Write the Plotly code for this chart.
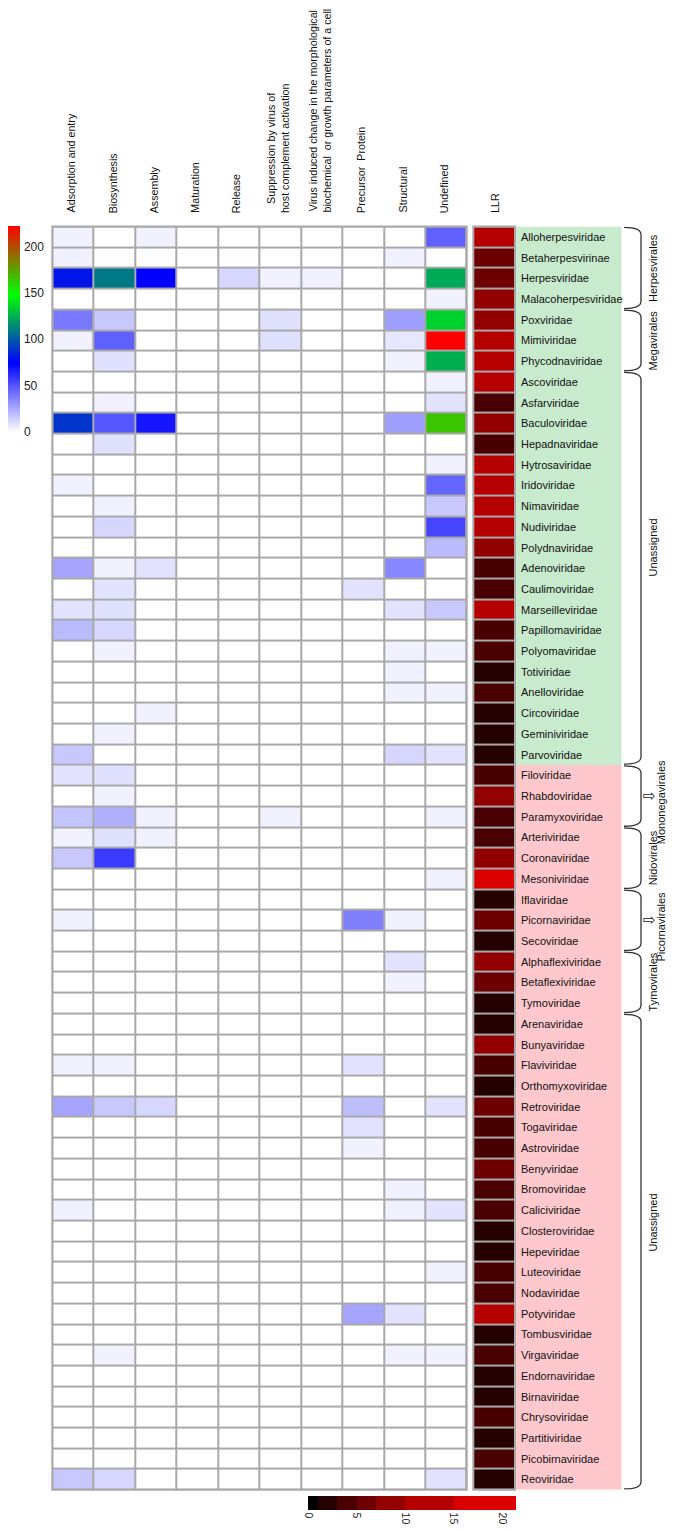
import plotly.graph_objects as go

W, H = 676, 1532
OFF = 8  # page body margin of the html page
FW, FH = W - OFF, H - 2 * OFF

functions = ["Adsorption and entry", "Biosynthesis", "Assembly", "Maturation", "Release",
             "Suppression by virus of<br>host complement activation",
             "Virus induced change in the morphological<br>biochemical\u00a0 or growth parameters of a cell",
             "Precursor\u00a0 Protein", "Structural", "Undefined"]

families = ["Alloherpesviridae", "Betaherpesvirinae", "Herpesviridae", "Malacoherpesviridae",
            "Poxviridae", "Mimiviridae", "Phycodnaviridae", "Ascoviridae", "Asfarviridae",
            "Baculoviridae", "Hepadnaviridae", "Hytrosaviridae", "Iridoviridae", "Nimaviridae",
            "Nudiviridae", "Polydnaviridae", "Adenoviridae", "Caulimoviridae", "Marseilleviridae",
            "Papillomaviridae", "Polyomaviridae", "Totiviridae", "Anelloviridae", "Circoviridae",
            "Geminiviridae", "Parvoviridae",
            "Filoviridae", "Rhabdoviridae", "Paramyxoviridae", "Arteriviridae", "Coronaviridae",
            "Mesoniviridae", "Iflaviridae", "Picornaviridae", "Secoviridae", "Alphaflexiviridae",
            "Betaflexiviridae", "Tymoviridae", "Arenaviridae", "Bunyaviridae", "Flaviviridae",
            "Orthomyxoviridae", "Retroviridae", "Togaviridae", "Astroviridae", "Benyviridae",
            "Bromoviridae", "Caliciviridae", "Closteroviridae", "Hepeviridae", "Luteoviridae",
            "Nodaviridae", "Potyviridae", "Tombusviridae", "Virgaviridae", "Endornaviridae",
            "Birnaviridae", "Chrysoviridae", "Partitiviridae", "Picobirnaviridae", "Reoviridae"]

# background group of each family (green block / pink block)
family_group = ["A"] * 26 + ["B"] * 35

llr = [12, 6, 6, 8.5, 8.5, 12, 12, 12, 4, 8.5, 4, 12, 12, 12, 12, 8.5, 4, 4, 12, 4, 4, 2, 4, 2, 2, 2,
       4, 8.5, 4, 4, 8.5, 17, 2, 6, 2, 8.5, 6, 2, 2, 8.5, 4, 2, 6, 4, 4, 6, 4, 4, 2, 2, 4, 4, 12,
       2, 4, 2, 2, 4, 2, 4, 2]

adsorption = [4, 4, 80, 0, 39, 4, 0, 0, 0, 89, 0, 0, 4, 0, 0, 0, 26, 0, 8, 20, 0, 0, 0, 0, 0, 16,
              8, 0, 17, 4, 16, 0, 0, 4, 0, 0, 0, 0, 0, 0, 4, 0, 26, 0, 0, 0, 0, 4, 0, 0, 0, 0, 0,
              0, 0, 0, 0, 0, 0, 0, 16]
biosynthesis = [0, 0, 109, 0, 16, 46, 9, 0, 4, 49, 9, 0, 0, 4, 12, 0, 4, 8, 9, 12, 4, 0, 0, 0, 4, 0,
                9, 4, 23, 9, 57, 0, 0, 0, 0, 0, 0, 0, 0, 0, 4, 0, 16, 0, 0, 0, 0, 0, 0, 0, 0, 0, 0,
                0, 4, 0, 0, 0, 0, 0, 12]
assembly = [4, 0, 74, 0, 0, 0, 0, 0, 0, 68, 0, 0, 0, 0, 0, 0, 8, 0, 0, 0, 0, 0, 0, 4, 0, 0,
            0, 0, 4, 4, 0, 0, 0, 0, 0, 0, 0, 0, 0, 0, 0, 0, 12, 0, 0, 0, 0, 0, 0, 0, 0, 0, 0,
            0, 0, 0, 0, 0, 0, 0, 0]
maturation = [0] * 61
release = [0, 0, 12] + [0] * 58
suppression = [0, 0, 4, 0, 9, 9, 0, 0, 0, 0, 0, 0, 0, 0, 0, 0, 0, 0, 0, 0, 0, 0, 0, 0, 0, 0,
               0, 0, 4, 0, 0, 0, 0, 0, 0, 0, 0, 0, 0, 0, 0, 0, 0, 0, 0, 0, 0, 0, 0, 0, 0, 0, 0,
               0, 0, 0, 0, 0, 0, 0, 0]
virus_induced = [0, 0, 4] + [0] * 58
precursor = [0, 0, 0, 0, 0, 0, 0, 0, 0, 0, 0, 0, 0, 0, 0, 0, 0, 8, 0, 0, 0, 0, 0, 0, 0, 0,
             0, 0, 0, 0, 0, 0, 0, 37, 0, 0, 0, 0, 0, 0, 8, 0, 19, 8, 4, 0, 0, 0, 0, 0, 0, 0, 26,
             0, 0, 0, 0, 0, 0, 0, 0]
structural = [0, 4, 0, 0, 28, 7, 4, 0, 0, 28, 0, 0, 0, 0, 0, 0, 35, 0, 8, 0, 4, 4, 4, 0, 0, 12,
              0, 0, 0, 0, 0, 0, 0, 4, 0, 8, 4, 0, 0, 0, 0, 0, 0, 0, 0, 0, 4, 4, 0, 0, 0, 0, 8,
              0, 4, 0, 0, 0, 0, 0, 0]
undefined = [46, 0, 123, 4, 135, 222, 125, 4, 8, 165, 0, 4, 45, 16, 54, 20, 0, 0, 16, 0, 4, 0, 4, 0, 0, 8,
             0, 0, 4, 0, 0, 4, 0, 0, 0, 0, 0, 0, 0, 0, 0, 0, 8, 0, 0, 0, 0, 8, 0, 0, 4, 0, 0,
             0, 4, 0, 0, 0, 0, 0, 8]

orders = ["Herpesvirales", "Megavirales", "Unassigned", "Mononegavirales", "Nidovirales",
          "Picornavirales", "Tymovirales", "Unassigned"]
order_arrow = [False, False, False, True, False, True, False, False]
order_first = [0, 4, 7, 26, 29, 32, 35, 38]
order_last = [3, 6, 25, 28, 31, 34, 37, 60]

cbar_ticks = [0, 50, 100, 150, 200]
llr_ticks = [0, 5, 10, 15, 20]
llr_breaks = [0, 1, 3, 5, 7, 10, 15, 21.4]
llr_colors = ["#000000", "#240000", "#490000", "#6d0000", "#920000", "#b60000", "#db0000"]

columns = [adsorption, biosynthesis, assembly, maturation, release, suppression,
           virus_induced, precursor, structural, undefined]
n = len(families)
z_main = [[col[i] for col in columns] for i in range(n)]
z_llr = [[v] for v in llr]

FONT = "Liberation Sans, Arial, Helvetica, sans-serif"


def px_x(p):
    return (p - OFF) / FW


def px_y(p):
    return 1 - (p - OFF) / FH


top_px, bot_px = 226.7, 1490.7

zmax_main = 222
main_scale = [[0, "#ffffff"], [1 / 3, "#0000ff"], [2 / 3, "#00ff00"], [1, "#ff0000"]]

llr_max = llr_breaks[-1]
llr_scale = []
for k, c in enumerate(llr_colors):
    llr_scale.append([llr_breaks[k] / llr_max, c])
    llr_scale.append([llr_breaks[k + 1] / llr_max, c])

fig = go.Figure()
fig.add_trace(go.Heatmap(
    z=z_main, x=list(range(10)), y=list(range(n)), xaxis="x", yaxis="y",
    colorscale=main_scale, zmin=0, zmax=zmax_main, xgap=2, ygap=2,
    hovertemplate="%{z}<extra></extra>",
    colorbar=dict(orientation="v", x=px_x(8), xanchor="left", y=px_y(432), yanchor="bottom",
                  len=206, lenmode="pixels", thickness=12, thicknessmode="pixels",
                  xpad=0, ypad=0, outlinewidth=0, tickvals=cbar_ticks,
                  ticks="outside", ticklen=2, tickcolor="rgba(0,0,0,0)",
                  tickfont=dict(family=FONT, size=12, color="#222"))))
fig.add_trace(go.Heatmap(
    z=z_llr, x=[0], y=list(range(n)), xaxis="x2", yaxis="y",
    colorscale=llr_scale, zmin=0, zmax=llr_max, ygap=2,
    hovertemplate="LLR %{z}<extra></extra>",
    colorbar=dict(orientation="h", x=px_x(308), xanchor="left", y=px_y(1496), yanchor="top",
                  len=208, lenmode="pixels", thickness=14, thicknessmode="pixels",
                  xpad=0, ypad=0, outlinewidth=0, tickvals=llr_ticks, tickangle=90,
                  ticks="outside", ticklen=1, tickcolor="rgba(0,0,0,0)",
                  tickfont=dict(family=FONT, size=10.5, color="#222"))))

fig.update_layout(
    width=FW, height=FH, autosize=False,
    margin=dict(l=0, r=0, t=0, b=0),
    paper_bgcolor="white", plot_bgcolor="#a9a9a9",
    font=dict(family=FONT, size=11, color="#222"),
    showlegend=False,
    xaxis=dict(domain=[px_x(52.3), px_x(466.7)], range=[-0.5, 9.5], showticklabels=False,
               showgrid=False, zeroline=False, ticks="", fixedrange=True),
    xaxis2=dict(domain=[px_x(473.3), px_x(515)], range=[-0.5, 0.5], anchor="y",
                showticklabels=False, showgrid=False, zeroline=False, ticks="", fixedrange=True),
    yaxis=dict(domain=[px_y(bot_px), px_y(top_px)], range=[n - 0.5, -0.5],
               showticklabels=False, showgrid=False, zeroline=False, ticks="", fixedrange=True),
)

shapes = []
annotations = []
# outer grey frames
for x0, x1 in [(52.3, 466.7), (473.3, 515)]:
    shapes.append(dict(type="rect", xref="paper", yref="paper", x0=px_x(x0), x1=px_x(x1),
                       y0=px_y(bot_px), y1=px_y(top_px), line=dict(color="#a9a9a9", width=2),
                       fillcolor="rgba(0,0,0,0)", layer="above"))

# background bands behind family names
i = 0
while i < n:
    j = i
    while j + 1 < n and family_group[j + 1] == family_group[i]:
        j += 1
    shapes.append(dict(type="rect", xref="paper", yref="y", x0=px_x(515), x1=px_x(621.5),
                       y0=i - 0.5, y1=j + 0.5, line=dict(width=0),
                       fillcolor="#c8ebcd" if family_group[i] == "A" else "#ffc8cd", layer="below"))
    i = j + 1

for k, name in enumerate(families):
    annotations.append(dict(text=name, xref="paper", yref="y", x=px_x(518.5), y=k,
                            xanchor="left", yanchor="middle", showarrow=False,
                            font=dict(family=FONT, size=11, color="#111")))

# column headers
col_centers_px = [52.3 + (k + 0.5) * 41.44 - 2 for k in range(10)]
for k, t in enumerate(functions):
    annotations.append(dict(text=t, xref="paper", yref="paper", x=px_x(col_centers_px[k]),
                            y=px_y(215), xanchor="center", yanchor="bottom", textangle=-90,
                            showarrow=False, font=dict(family=FONT, size=10.7, color="#111")))
annotations.append(dict(text="LLR", xref="paper", yref="paper", x=px_x(495), y=px_y(215),
                        xanchor="center", yanchor="bottom", textangle=-90, showarrow=False,
                        font=dict(family=FONT, size=10.7, color="#111")))

# order brackets
bx0, bx1 = px_x(624), px_x(641)
for name, arrow, a, b in zip(orders, order_arrow, order_first, order_last):
    y0 = a - 0.5 + 0.04
    y1 = b + 0.5 - 0.04
    d = 0.35
    path = (f"M {bx0},{y0} Q {bx1},{y0} {bx1},{y0 + d} "
            f"L {bx1},{y1 - d} Q {bx1},{y1} {bx0},{y1}")
    shapes.append(dict(type="path", xref="paper", yref="y", path=path,
                       line=dict(color="#333", width=1.3)))
    yc = (a + b) / 2
    xc = 653
    if arrow:
        xc = 661
        annotations.append(dict(text="\u21e8", xref="paper", yref="y", x=px_x(649.5), y=yc,
                                xanchor="center", yanchor="middle", showarrow=False,
                                font=dict(family="DejaVu Sans", size=15, color="#222")))
        yc += 0.3
    if b - a > 10:
        yc -= 1.0 if a < 20 else 1.4
    annotations.append(dict(text=name, xref="paper", yref="y", x=px_x(xc), y=yc,
                            xanchor="center", yanchor="middle", textangle=-90, showarrow=False,
                            font=dict(family=FONT, size=11, color="#111")))

fig.update_layout(shapes=shapes, annotations=annotations)
fig.write_html("out.html")
